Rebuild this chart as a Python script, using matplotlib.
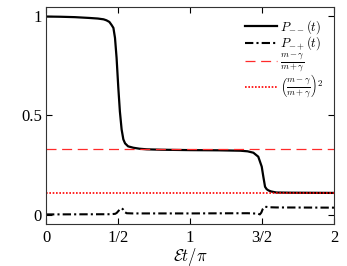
import matplotlib
matplotlib.use("Agg")
import matplotlib.pyplot as plt

plt.rcParams["mathtext.fontset"] = "cm"
plt.rcParams["font.family"] = "serif"
plt.rcParams["font.serif"] = ["Liberation Serif", "DejaVu Serif"]

# P_{--}(t)
t_mm = [0, 0.1, 0.2, 0.3, 0.36, 0.4, 0.42, 0.44, 0.455, 0.468, 0.479, 0.49,
        0.502, 0.513, 0.525, 0.537, 0.549, 0.57, 0.606, 0.65, 0.7, 0.8, 1.0,
        1.2, 1.35, 1.40, 1.44, 1.474, 1.486, 1.498, 1.509, 1.521, 1.532,
        1.544, 1.56, 1.579, 1.6, 1.7, 2.0]
p_mm = [0.997, 0.996, 0.994, 0.99, 0.987, 0.983, 0.978, 0.97, 0.955, 0.94,
        0.89, 0.79, 0.64, 0.52, 0.43, 0.38, 0.36, 0.345, 0.338, 0.333, 0.33,
        0.328, 0.326, 0.325, 0.323, 0.32, 0.313, 0.293, 0.268, 0.243, 0.193,
        0.142, 0.13, 0.124, 0.119, 0.116, 0.113, 0.112, 0.111]

# P_{-+}(t)
t_mp = [0, 0.45, 0.48, 0.49, 0.5, 0.51, 0.52, 0.526, 0.535, 0.545, 0.56,
        0.6, 1.0, 1.4, 1.47, 1.485, 1.495, 1.505, 1.515, 1.53, 1.55, 1.6, 2.0]
p_mp = [0.003, 0.004, 0.006, 0.01, 0.018, 0.026, 0.032, 0.034, 0.028, 0.016,
        0.009, 0.008, 0.008, 0.009, 0.007, 0.003, 0.012, 0.03, 0.04, 0.041,
        0.039, 0.038, 0.037]

ratio = 1 / 3
ratio_sq = ratio ** 2

x_ticks = [0, 0.5, 1, 1.5, 2]
x_labels = ["0", "1/2", "1", "3/2", "2"]
y_ticks = [0, 0.5, 1]
y_labels = ["0", "0.5", "1"]

fig = plt.figure(figsize=(3.47, 2.66), dpi=100)
ax = fig.add_axes([0.1326, 0.158, 0.83, 0.8157])

ax.plot(t_mm, p_mm, color="black", lw=1.6, label=r"$P_{--}(t)$")
ax.plot(t_mp, p_mp, color="black", lw=1.5, ls=(0, (4, 1.5, 1, 1.5)),
        label=r"$P_{-+}(t)$")
ax.axhline(ratio, color="#ff2a2a", lw=0.9, ls=(0, (8, 4.5)),
           label=r"$\frac{m-\gamma}{m+\gamma}$")
ax.axhline(ratio_sq, color="red", lw=1.2, ls=(0, (1, 1)),
           label=r"$\left(\frac{m-\gamma}{m+\gamma}\right)^2$")

ax.set_xlim(0, 2)
ax.set_ylim(-0.045, 1.045)
ax.set_xticks(x_ticks)
ax.set_xticklabels(x_labels)
ax.set_yticks(y_ticks)
ax.set_yticklabels(y_labels)
ax.tick_params(direction="in", top=True, right=True, labelsize=12,
               length=4, width=0.8)
ax.tick_params(axis="x", pad=4)
ax.tick_params(axis="y", pad=3)
for s in ax.spines.values():
    s.set_linewidth(0.8)
    s.set_color("#333333")

ax.set_xlabel(r"$\mathcal{E}t/\pi$", fontsize=12, labelpad=0)

leg = ax.legend(loc="upper right", frameon=False, fontsize=9.2,
                handlelength=2.5, handletextpad=0.2, labelspacing=-0.08,
                borderaxespad=0.45)

fig.savefig("out.png", dpi=100)
